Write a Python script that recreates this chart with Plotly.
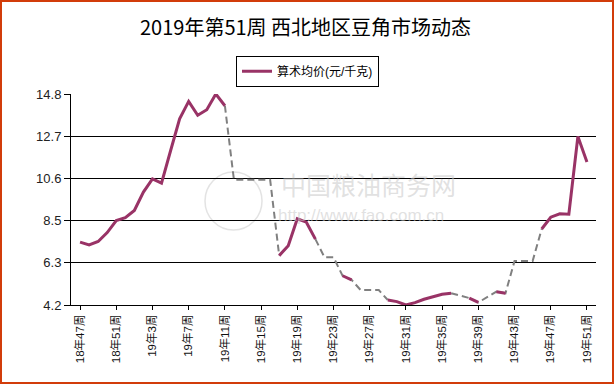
import plotly.graph_objects as go

# ---- data ----
weeks = [f"18年{w}周" for w in range(47, 53)] + [f"19年{w}周" for w in range(1, 52)]

# 算术均价 (actual reported values; None = no report that week)
price = [7.36, 7.22, 7.39, 7.84, 8.44, 8.59, 8.95, 9.87, 10.54, 10.32,
         11.95, 13.55, 14.43, 13.73, 14.01, 14.80, 14.21,
         None, None, None, None, None,
         6.68, 7.18, 8.53, 8.36, 7.51,
         None, None,
         5.67, 5.46,
         None, None, None,
         4.45, 4.37, 4.20, 4.32, 4.49, 4.62, 4.74, 4.79,
         None,
         4.55, 4.33,
         None,
         4.87, 4.79,
         None, None, None,
         8.02, 8.61, 8.78, 8.76, 12.67, 11.38]

# values shown by the grey dashed connector in weeks without report
gap_fill = {17: 10.49, 18: 10.49, 19: 10.49, 20: 10.49, 21: 10.49,
            27: 6.60, 28: 6.60,
            31: 4.95, 32: 4.95, 33: 4.95,
            42: 4.67,
            45: 4.60,
            48: 6.41, 49: 6.41, 50: 6.41}

y_ticks = [4.2, 6.32, 8.44, 10.56, 12.68, 14.8]
y_tick_text = ["4.2", "6.3", "8.5", "10.6", "12.7", "14.8"]
tick_every = 4

title_text = "2019年第51周 西北地区豆角市场动态"
series_name = "算术均价(元/千克)"

# ---- build grey connector series ----
n = len(weeks)
missing = [p is None for p in price]
full = [gap_fill.get(i) if price[i] is None else price[i] for i in range(n)]
grey = []
for i in range(n):
    near = missing[i] or (i > 0 and missing[i - 1]) or (i < n - 1 and missing[i + 1])
    grey.append(full[i] if near else None)

FONT = "Liberation Sans, Arial, Noto Sans CJK SC, sans-serif"
W, H = 615, 385
ML, MR, MT, MB = 71, 19, 94, 80
PW, PH = W - ML - MR, H - MT - MB

def px(x):
    return (x - ML) / PW

def py(y):
    return (H - MB - y) / PH

fig = go.Figure()
fig.add_trace(go.Scatter(x=weeks, y=grey, mode="lines", showlegend=False,
                         line=dict(color="#808080", width=2, dash="7px,4px"),
                         connectgaps=False, cliponaxis=False, hoverinfo="skip"))
fig.add_trace(go.Scatter(x=weeks, y=price, mode="lines", name=series_name,
                         line=dict(color="#993366", width=3),
                         connectgaps=False, cliponaxis=False))

fig.update_layout(
    width=W, height=H,
    margin=dict(l=ML, r=MR, t=MT, b=MB),
    paper_bgcolor="white", plot_bgcolor="white",
    font=dict(family=FONT, color="#222222"),
    showlegend=True,
    legend=dict(x=px(307.5), y=py(55.7), xanchor="center", yanchor="top",
                bordercolor="black", borderwidth=1, bgcolor="white",
                font=dict(size=12, color="black"), itemwidth=30),
    xaxis=dict(type="category", range=[-1, n], showgrid=False,
               tickvals=weeks[::tick_every], ticktext=weeks[::tick_every],
               tickangle=-90, ticks="outside", ticklen=4, tickcolor="black",
               showline=True, linecolor="black", linewidth=1,
               tickfont=dict(size=11.5, color="#111111")),
    yaxis=dict(range=[4.2, 14.8], tickvals=y_ticks, ticktext=y_tick_text,
               showgrid=True, gridcolor="black", gridwidth=1,
               ticks="outside", ticklen=6, tickcolor="black",
               showline=True, linecolor="black", linewidth=1, zeroline=False,
               tickfont=dict(size=13, color="#222222")),
    annotations=[
        dict(text=title_text, xref="paper", yref="paper", x=px(305.5), y=py(26),
             xanchor="center", yanchor="middle", showarrow=False,
             font=dict(size=20, color="black", family="Noto Sans CJK SC, sans-serif")),
        dict(text="中国粮油商务网", xref="paper", yref="paper", x=px(368), y=py(184),
             xanchor="center", yanchor="middle", showarrow=False,
             font=dict(size=25, color="rgba(200,200,200,0.55)", family="Noto Sans CJK SC")),
        dict(text="http://www.fao.com.cn", xref="paper", yref="paper", x=px(361), y=py(215),
             xanchor="center", yanchor="middle", showarrow=False,
             font=dict(size=17, color="rgba(200,200,200,0.55)")),
    ],
    shapes=[
        dict(type="circle", xref="paper", yref="paper",
             x0=px(205), x1=px(262), y0=py(230), y1=py(172),
             line=dict(color="rgba(200,200,200,0.5)", width=1.5), layer="below"),
        dict(type="rect", xref="paper", yref="paper",
             x0=px(1), x1=px(613), y0=py(383), y1=py(1),
             line=dict(color="#D23C0A", width=2), fillcolor="rgba(0,0,0,0)"),
    ],
)

fig.write_html("out.html", config={"displayModeBar": False},
               post_script="document.body.style.margin='0';document.body.style.padding='0';")
